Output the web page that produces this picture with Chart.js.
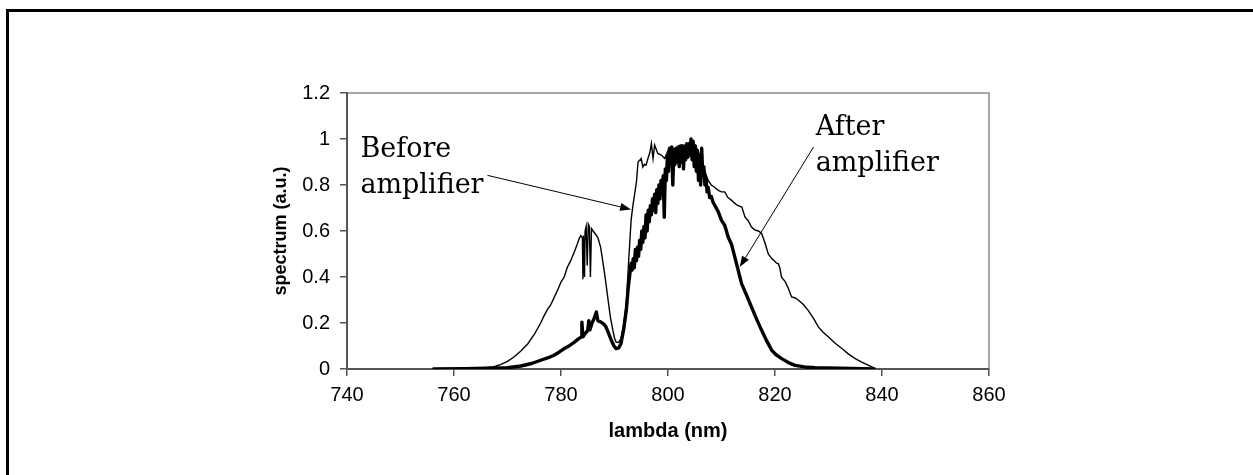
<!DOCTYPE html>
<html>
<head>
<meta charset="utf-8">
<title>spectrum</title>
<script src="https://cdn.jsdelivr.net/npm/chart.js@4/dist/chart.umd.min.js"></script>
<style>
    body { margin: 0; background: #fff; }
    #wrap { position: relative; width: 1253px; height: 475px; overflow: hidden; }
    #frame { position: absolute; left: 6px; top: 9px; width: 2000px; height: 2000px;
             border-top: 3px solid #000; border-left: 3px solid #000; }
    #chart { position: absolute; left: 0; top: 0; }
</style>
</head>
<body>
<div id="wrap">
    <div id="frame"></div>
    <canvas id="chart" width="1253" height="475"></canvas>
</div>
<script>
// spectrum before the amplifier (thin line)
var beforeNm = [756, 760, 764, 766, 767.5, 768.8, 770, 771.2, 772.5, 773.8, 775, 776.2, 776.8, 777.5, 778.1, 778.7,
    779.4, 780, 780.6, 781.2, 781.8, 782.5, 783, 783.4, 783.7, 784.0, 784.1, 784.2, 784.4, 784.5, 784.7, 784.9,
    785.1, 785.3, 785.5, 785.7, 786.0, 786.5, 786.9, 787.4, 787.8, 788.3, 788.8, 789.2, 789.7, 790.0, 790.3, 790.7,
    791.2, 791.7, 792.2, 792.6, 793.1, 793.4, 794.1, 794.4, 795.0, 795.3, 795.6, 795.9, 796.25, 796.6, 796.9, 797.2,
    797.5, 798.1, 798.75, 799.4, 800, 800.6, 801.2, 801.9, 802.5, 803.1, 803.75, 804.4, 805, 805.6, 806.25, 806.9,
    807.5, 808.1, 808.7, 809.4, 810, 810.6, 811.2, 811.9, 812.5, 813.1, 813.8, 814.4, 815, 815.6, 816.2, 816.9,
    817.5, 818.1, 818.75, 819.4, 819.9, 820.3, 820.6, 820.9, 821.2, 821.9, 822.5, 823.1, 823.7, 824.4, 825.3, 826.2,
    827.2, 828.1, 829, 830, 831.2, 832.5, 833.7, 835, 836.2, 837.5, 838.2, 838.75];
var beforeVal = [0, 0.001, 0.004, 0.006, 0.01, 0.02, 0.033, 0.052, 0.078, 0.11, 0.15, 0.2, 0.23, 0.26, 0.28, 0.31,
    0.345, 0.378, 0.4, 0.443, 0.47, 0.51, 0.54, 0.567, 0.58, 0.57, 0.39, 0.58, 0.4, 0.6, 0.62, 0.45,
    0.63, 0.62, 0.4, 0.61, 0.6, 0.585, 0.57, 0.53, 0.47, 0.39, 0.3, 0.23, 0.168, 0.135, 0.117, 0.115,
    0.132, 0.19, 0.284, 0.45, 0.646, 0.704, 0.813, 0.9, 0.915, 0.878, 0.89, 0.886, 0.915, 0.94, 0.98, 0.915,
    0.973, 0.937, 0.93, 0.915, 0.95, 0.965, 0.955, 0.97, 0.975, 0.965, 0.98, 0.99, 0.975, 0.95, 0.9, 0.86,
    0.82, 0.8, 0.79, 0.777, 0.77, 0.77, 0.745, 0.733, 0.72, 0.71, 0.704, 0.66, 0.645, 0.617, 0.605, 0.6,
    0.589, 0.55, 0.5, 0.48, 0.47, 0.46, 0.458, 0.44, 0.4, 0.38, 0.35, 0.313, 0.31, 0.299, 0.28, 0.255,
    0.22, 0.183, 0.16, 0.139, 0.113, 0.089, 0.066, 0.045, 0.03, 0.016, 0.008, 0];

// spectrum after the amplifier (thick line)
var afterNm = [756, 762, 766, 770, 772.5, 774.5, 776.2, 777.5, 778.7, 779.7, 780.6, 781.5, 782.5, 783.2, 783.75, 783.9,
    784.1, 784.4, 785, 785.2, 785.4, 785.8, 786.2, 786.6, 786.9, 787.4, 788, 788.4, 788.9, 789.4, 789.9, 790.3,
    790.8, 791.2, 791.7, 792.2, 792.6, 792.9, 793.1, 793.3, 793.5, 793.7, 793.9, 794.1, 794.3, 794.5, 794.7, 794.9,
    795.1, 795.3, 795.5, 795.7, 795.9, 796.1, 796.3, 796.5, 796.7, 796.9, 797.1, 797.3, 797.5, 797.7, 797.9, 798.1,
    798.3, 798.5, 798.7, 798.9, 799.1, 799.3, 799.5, 799.7, 799.9, 800.1, 800.3, 800.5, 800.7, 800.9, 801.1, 801.3,
    801.5, 801.7, 801.9, 802.1, 802.3, 802.5, 802.7, 802.9, 803.1, 803.3, 803.5, 803.7, 803.9, 804.1, 804.3, 804.5,
    804.7, 804.9, 805.1, 805.3, 805.5, 805.7, 805.9, 806.1, 806.3, 806.5, 806.7, 806.9, 807.1, 807.3, 807.5, 807.8,
    808.1, 808.4, 809.4, 810, 810.6, 811.25, 811.9, 812.8, 813.75, 814.7, 815.6, 816.5, 817.5, 818.5, 819.4, 820.3,
    821.25, 822.5, 823.75, 825.5, 827.5, 832, 838.75];
var afterVal = [0, 0.001, 0.003, 0.006, 0.013, 0.024, 0.038, 0.048, 0.06, 0.074, 0.089, 0.1, 0.117, 0.13, 0.139, 0.204,
    0.14, 0.15, 0.168, 0.21, 0.17, 0.2, 0.22, 0.248, 0.21, 0.205, 0.195, 0.183, 0.155, 0.125, 0.1, 0.089,
    0.092, 0.11, 0.17, 0.255, 0.36, 0.42, 0.46, 0.43, 0.48, 0.44, 0.52, 0.47, 0.53, 0.49, 0.56, 0.52,
    0.6, 0.55, 0.62, 0.57, 0.67, 0.6, 0.69, 0.64, 0.71, 0.67, 0.74, 0.69, 0.76, 0.68, 0.78, 0.72,
    0.8, 0.74, 0.82, 0.77, 0.84, 0.66, 0.87, 0.82, 0.93, 0.86, 0.96, 0.89, 0.965, 0.8, 0.95, 0.89,
    0.96, 0.9, 0.96, 0.88, 0.965, 0.9, 0.97, 0.87, 0.97, 0.91, 0.98, 0.92, 0.98, 0.93, 1.0, 0.91,
    0.99, 0.88, 0.97, 0.86, 0.95, 0.82, 0.93, 0.8, 0.96, 0.84, 0.88, 0.8, 0.83, 0.77, 0.79, 0.745,
    0.75, 0.726, 0.683, 0.646, 0.625, 0.574, 0.54, 0.458, 0.371, 0.32, 0.27, 0.22, 0.168, 0.12, 0.081, 0.06,
    0.045, 0.028, 0.016, 0.009, 0.006, 0.004, 0];

var xTicks = [740, 760, 780, 800, 820, 840, 860];
var yTicks = [0, 0.2, 0.4, 0.6, 0.8, 1, 1.2];
var yTickLabels = ['0', '0.2', '0.4', '0.6', '0.8', '1', '1.2'];

// text labels and arrows, in data units
var notes = [
    { lines: ['Before', 'amplifier'], x: 742.5, y: 0.92 },
    { lines: ['After', 'amplifier'], x: 827.6, y: 1.016 }
];
var arrows = [
    { from: [766.25, 0.842], to: [793.1, 0.694] },
    { from: [827.2, 0.965], to: [813.4, 0.443] }
];

function toPoints(xs, ys) {
    return xs.map(function (x, i) { return { x: x, y: ys[i] }; });
}

var framePlugin = {
    id: 'frame',
    beforeDraw: function (chart) {
        var a = chart.chartArea, ctx = chart.ctx;
        ctx.save();
        ctx.strokeStyle = '#8a8a8a';
        ctx.lineWidth = 1.5;
        ctx.strokeRect(a.left, a.top, a.right - a.left, a.bottom - a.top);
        ctx.restore();
    }
};

var notePlugin = {
    id: 'notes',
    afterDatasetsDraw: function (chart) {
        var ctx = chart.ctx, sx = chart.scales.x, sy = chart.scales.y;
        ctx.save();
        ctx.fillStyle = '#000';
        ctx.strokeStyle = '#000';
        ctx.font = '27px "DejaVu Serif"';
        ctx.textBaseline = 'alphabetic';
        notes.forEach(function (n) {
            var px = sx.getPixelForValue(n.x), py = sy.getPixelForValue(n.y);
            n.lines.forEach(function (t, i) {
                ctx.fillText(t, px, py + i * 36);
            });
        });
        arrows.forEach(function (ar) {
            var x1 = sx.getPixelForValue(ar.from[0]), y1 = sy.getPixelForValue(ar.from[1]);
            var x2 = sx.getPixelForValue(ar.to[0]), y2 = sy.getPixelForValue(ar.to[1]);
            var ang = Math.atan2(y2 - y1, x2 - x1);
            var len = 11, half = 4;
            ctx.lineWidth = 1;
            ctx.beginPath();
            ctx.moveTo(x1, y1);
            ctx.lineTo(x2 - Math.cos(ang) * len, y2 - Math.sin(ang) * len);
            ctx.stroke();
            ctx.beginPath();
            ctx.moveTo(x2, y2);
            ctx.lineTo(x2 - Math.cos(ang) * len - Math.sin(ang) * half, y2 - Math.sin(ang) * len + Math.cos(ang) * half);
            ctx.lineTo(x2 - Math.cos(ang) * len + Math.sin(ang) * half, y2 - Math.sin(ang) * len - Math.cos(ang) * half);
            ctx.closePath();
            ctx.fill();
        });
        ctx.restore();
    }
};

var ctx = document.getElementById('chart');

var chart = new Chart(ctx, {
    type: 'scatter',
    data: {
        datasets: [
            {
                label: 'After amplifier',
                data: toPoints(afterNm, afterVal),
                showLine: true,
                borderColor: '#000',
                borderWidth: 3.4,
                pointRadius: 0,
                tension: 0,
                borderJoinStyle: 'round',
                order: 0
            },
            {
                label: 'Before amplifier',
                data: toPoints(beforeNm, beforeVal),
                showLine: true,
                borderColor: '#000',
                borderWidth: 1.4,
                pointRadius: 0,
                tension: 0,
                order: 1
            }
        ]
    },
    options: {
        responsive: false,
        animation: false,
        devicePixelRatio: 1,
        layout: { padding: { left: 270, top: 93, right: 264, bottom: 32 } },
        plugins: {
            legend: { display: false },
            tooltip: { enabled: false }
        },
        scales: {
            x: {
                type: 'linear',
                min: 740,
                max: 860,
                afterBuildTicks: function (s) { s.ticks = xTicks.map(function (v) { return { value: v }; }); },
                afterFit: function (s) { s.height = 74; },
                ticks: {
                    color: '#000',
                    padding: 7,
                    maxRotation: 0,
                    font: { family: '"Liberation Sans", Arial, sans-serif', size: 20 }
                },
                grid: { drawOnChartArea: false, drawTicks: true, tickLength: 7, color: '#555', lineWidth: 1.5 },
                border: { display: true, color: '#555', width: 2 },
                title: {
                    display: true,
                    text: 'lambda (nm)',
                    color: '#000',
                    padding: 0,
                    font: { family: '"Liberation Sans", Arial, sans-serif', size: 20, weight: 'bold' }
                }
            },
            y: {
                type: 'linear',
                min: 0,
                max: 1.2,
                afterBuildTicks: function (s) { s.ticks = yTicks.map(function (v) { return { value: v }; }); },
                afterFit: function (s) { s.width = 77; },
                ticks: {
                    color: '#000',
                    padding: 10,
                    callback: function (v, i) { return yTickLabels[i]; },
                    font: { family: '"Liberation Sans", Arial, sans-serif', size: 20 }
                },
                grid: { drawOnChartArea: false, drawTicks: true, tickLength: 7, color: '#555', lineWidth: 1.5 },
                border: { display: true, color: '#555', width: 2 },
                title: {
                    display: true,
                    text: 'spectrum (a.u.)',
                    color: '#000',
                    padding: 0,
                    font: { family: '"Liberation Sans", Arial, sans-serif', size: 18, weight: 'bold' }
                }
            }
        }
    },
    plugins: [framePlugin, notePlugin]
});
</script>
</body>
</html>
